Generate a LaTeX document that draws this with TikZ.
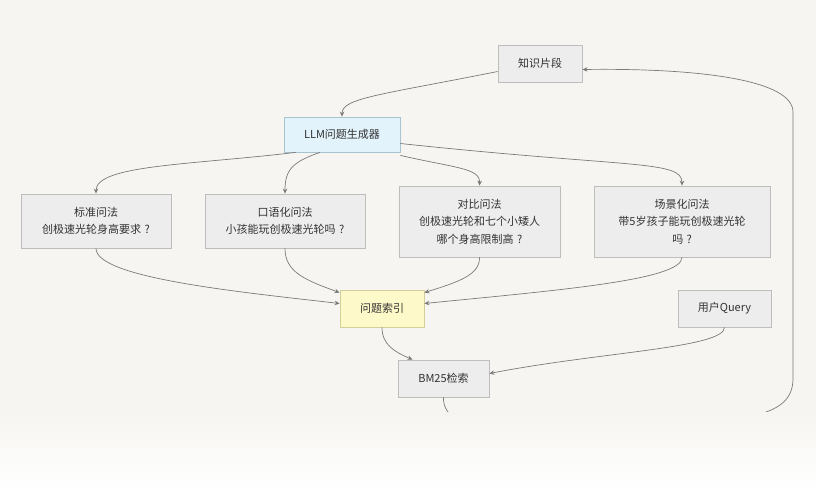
\documentclass[tikz,border=0pt]{standalone}
\usepackage{fontspec}
\setmainfont{Noto Sans CJK SC}
\usepackage{tikz}
\usetikzlibrary{arrows.meta}

\definecolor{bgcol}{HTML}{F6F5F1}
\definecolor{boxfill}{HTML}{EDEDED}
\definecolor{boxline}{HTML}{BDBDBD}
\definecolor{llmfill}{HTML}{E2F3FC}
\definecolor{llmline}{HTML}{A9C3D0}
\definecolor{idxfill}{HTML}{FEF9C8}
\definecolor{idxline}{HTML}{D5CE98}
\definecolor{linkcol}{HTML}{7A7A7A}
\definecolor{txtcol}{HTML}{333333}

\newcommand{\qm}{\kern0.3em?}

\begin{document}
\begin{tikzpicture}[x=1pt,y=-1pt,font=\fontsize{11}{17.5}\selectfont,text=txtcol,
  box/.style={rectangle,draw=boxline,fill=boxfill,line width=0.8pt,align=center,inner sep=0pt},
  llmbox/.style={box,draw=llmline,fill=llmfill},
  idxbox/.style={box,draw=idxline,fill=idxfill},
  link/.style={draw=linkcol,line width=0.7pt,-{Stealth[length=5pt,width=4.5pt]}},
  openlink/.style={draw=linkcol,line width=0.7pt}]
\fill[bgcol] (0,0) rectangle (816,490);
% nodes
\node[box,minimum width=84pt,minimum height=37pt] (kb) at (540,63.5) {知识片段};
\node[llmbox,minimum width=116pt,minimum height=35pt] (llm) at (342,134.5) {LLM问题生成器};
\node[box,minimum width=150pt,minimum height=54pt] (std) at (96,221) {标准问法\\创极速光轮身高要求\qm};
\node[box,minimum width=160pt,minimum height=54pt] (oral) at (285,221) {口语化问法\\小孩能玩创极速光轮吗\qm};
\node[box,minimum width=161pt,minimum height=71pt] (cmp) at (479.5,221.5) {对比问法\\创极速光轮和七个小矮人\\哪个身高限制高\qm};
\node[box,minimum width=176pt,minimum height=71pt] (scene) at (682,221.5) {场景化问法\\带5岁孩子能玩创极速光轮\\吗\qm};
\node[idxbox,minimum width=84pt,minimum height=37pt] (idx) at (382,308.5) {问题索引};
\node[box,minimum width=93pt,minimum height=37pt] (user) at (724.5,308.5) {用户Query};
\node[box,minimum width=91pt,minimum height=37pt] (bm) at (443.5,378.5) {BM25检索};
\coordinate (bmend) at (456,420);
\coordinate (retstart) at (748,417);
% generator
\draw[link] ([yshift=-8pt]kb.west) .. controls (380,95) and (342,98) .. (llm.north);
\draw[link] ([xshift=12pt]llm.south west) .. controls (190,165) and (96,165) .. (std.north);
\draw[link] ([xshift=-22pt]llm.south) .. controls (292,162) and (285,170) .. (oral.north);
\draw[link] ([yshift=-3pt]llm.south east) .. controls (455,168) and (480,168) .. (cmp.north);
\draw[link] ([yshift=-9pt]llm.east) .. controls (630,168) and (682,160) .. (scene.north);
% index
\draw[link] (std.south) .. controls (96,278) and (240,292) .. ([yshift=5pt]idx.west);
\draw[link] (oral.south) .. controls (285,272) and (305,280) .. ([yshift=-3pt]idx.north west);
\draw[link] (cmp.south) .. controls (480,275) and (458,282) .. ([yshift=-3pt]idx.north east);
\draw[link] (scene.south) .. controls (682,280) and (560,290) .. ([yshift=5pt]idx.east);
% search
\draw[link] (idx.south) .. controls (382,345) and (395,352) .. ([xshift=-31pt]bm.north);
\draw[link] (user.south) .. controls (724,348) and (600,352) .. ([yshift=5pt]bm.east);
\draw[openlink] (bm.south) .. controls (443,408) and (449,414) .. (bmend);
\draw[link] (retstart) .. controls (782,410) and (793,398) .. (793,378)
  -- (793,112) .. controls (793,80) and (700,68) .. ([yshift=-6pt]kb.east);
% bottom fade
\shade[top color=bgcol,bottom color=white] (0,412) rectangle (816,490);
\end{tikzpicture}
\end{document}
